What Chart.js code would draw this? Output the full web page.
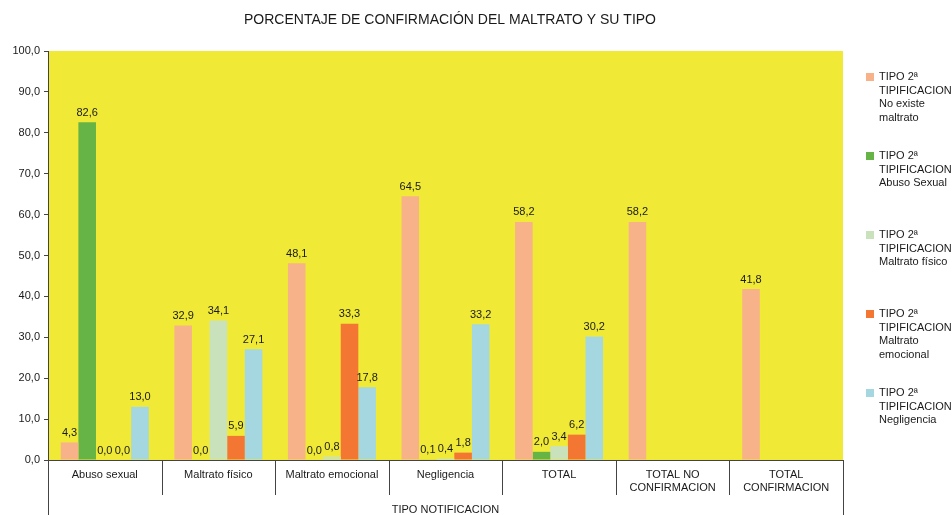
<!DOCTYPE html>
<html>
<head>
<meta charset="utf-8">
<script src="https://cdn.jsdelivr.net/npm/chart.js@4/dist/chart.umd.min.js"></script>
<style>
  body { margin: 0; background: #fff; }
  #wrap { position: relative; width: 952px; height: 515px; }
  #leyenda { position: absolute; left: 866px; top: 0; font: 11px "Liberation Sans", Arial, sans-serif; color: #1a1a1a; }
  .item { position: absolute; left: 0; width: 90px; line-height: 13.5px; padding-left: 13px; white-space: nowrap; }
  .item span.box { position: absolute; left: 0; top: 3px; width: 8px; height: 8px; }
</style>
</head>
<body>
<div id="wrap">
  <canvas id="grafica" width="952" height="515"></canvas>
  <div id="leyenda"></div>
</div>
<script>
const titulo = 'PORCENTAJE DE CONFIRMACIÓN DEL MALTRATO Y SU TIPO';
const tituloEje = 'TIPO NOTIFICACION';

const categorias = ['Abuso sexual', 'Maltrato físico', 'Maltrato emocional', 'Negligencia', 'TOTAL',
    ['TOTAL NO', 'CONFIRMACION'], ['TOTAL', 'CONFIRMACION']];

const noExisteMaltrato = [4.3, 32.9, 48.1, 64.5, 58.2, 58.2, 41.8];
const abusoSexual = [82.6, 0.0, 0.0, 0.1, 2.0, null, null];
const maltratoFisico = [0.0, 34.1, 0.8, 0.4, 3.4, null, null];
const maltratoEmocional = [0.0, 5.9, 33.3, 1.8, 6.2, null, null];
const negligencia = [13.0, 27.1, 17.8, 33.2, 30.2, null, null];

const ticksY = [0, 10, 20, 30, 40, 50, 60, 70, 80, 90, 100];

const fuente = '"Liberation Sans", Arial, sans-serif';
const colorTexto = '#1a1a1a';
const colorEje = '#444';

const formato = v => v.toFixed(1).replace('.', ',');

const series = [
    { label: ['TIPO 2ª', 'TIPIFICACION', 'No existe', 'maltrato'], data: noExisteMaltrato, backgroundColor: '#f8b28a' },
    { label: ['TIPO 2ª', 'TIPIFICACION', 'Abuso Sexual'], data: abusoSexual, backgroundColor: '#66b445' },
    { label: ['TIPO 2ª', 'TIPIFICACION', 'Maltrato físico'], data: maltratoFisico, backgroundColor: '#cae2bc' },
    { label: ['TIPO 2ª', 'TIPIFICACION', 'Maltrato', 'emocional'], data: maltratoEmocional, backgroundColor: '#f37633' },
    { label: ['TIPO 2ª', 'TIPIFICACION', 'Negligencia'], data: negligencia, backgroundColor: '#a5d7e1' }
];

// fondo amarillo del área de trazado
const fondoArea = {
    id: 'fondoArea',
    beforeDraw(chart) {
        const { ctx, chartArea: a } = chart;
        ctx.save();
        ctx.fillStyle = '#f0ea36';
        ctx.fillRect(a.left, a.top, a.right - a.left, a.bottom - a.top);
        ctx.restore();
    }
};

// valores encima de cada barra
const etiquetasValor = {
    id: 'etiquetasValor',
    afterDatasetsDraw(chart) {
        const ctx = chart.ctx;
        ctx.save();
        ctx.font = '11px ' + fuente;
        ctx.fillStyle = colorTexto;
        ctx.textAlign = 'center';
        ctx.textBaseline = 'bottom';
        chart.data.datasets.forEach((ds, i) => {
            chart.getDatasetMeta(i).data.forEach((bar, j) => {
                const v = ds.data[j];
                if (v === null) return;
                ctx.fillText(formato(v), bar.x, bar.y - 4);
            });
        });
        ctx.restore();
    }
};

// título y separadores de categorías del eje X
const decoracion = {
    id: 'decoracion',
    afterDraw(chart) {
        const { ctx, chartArea: a, scales: { x } } = chart;
        ctx.save();
        ctx.font = '14px ' + fuente;
        ctx.fillStyle = colorTexto;
        ctx.textAlign = 'center';
        ctx.textBaseline = 'middle';
        ctx.fillText(titulo, 450, 20);

        ctx.strokeStyle = colorEje;
        ctx.lineWidth = 1;
        const paso = (a.right - a.left) / categorias.length;
        for (let i = 0; i <= categorias.length; i++) {
            const px = Math.round(x.getPixelForValue(i) - paso / 2) + 0.5;
            const fin = (i === 0 || i === categorias.length) ? chart.height : a.bottom + 35;
            ctx.beginPath();
            ctx.moveTo(px, a.bottom);
            ctx.lineTo(px, fin);
            ctx.stroke();
        }
        ctx.restore();
    }
};

const config = {
    type: 'bar',
    data: { labels: categorias, datasets: series },
    options: {
        responsive: false,
        animation: false,
        layout: { padding: { top: 51, right: 109, left: 0, bottom: 0 } },
        datasets: { bar: { categoryPercentage: 0.775, barPercentage: 1 } },
        plugins: { legend: { display: false }, tooltip: { enabled: false } },
        scales: {
            x: {
                grid: { display: false, drawTicks: false },
                border: { display: true, color: colorEje },
                ticks: { color: colorTexto, font: { family: fuente, size: 11 }, padding: 8, maxRotation: 0, autoSkip: false },
                title: { display: true, text: tituloEje, color: colorTexto, font: { family: fuente, size: 11 }, padding: { top: 0, bottom: -2 } },
                afterFit: s => { s.height = 55; }
            },
            y: {
                min: 0,
                max: 100,
                afterBuildTicks: s => { s.ticks = ticksY.map(v => ({ value: v })); },
                grid: { drawOnChartArea: false, drawTicks: true, tickLength: 4, color: colorEje },
                border: { display: true, color: colorEje },
                ticks: { color: colorTexto, font: { family: fuente, size: 11 }, padding: 4, callback: v => formato(v) },
                afterFit: s => { s.width = 48; }
            }
        }
    },
    plugins: [fondoArea, etiquetasValor, decoracion]
};

new Chart(document.getElementById('grafica'), config);

// leyenda a la derecha
const leyenda = document.getElementById('leyenda');
series.forEach((s, i) => {
    const item = document.createElement('div');
    item.className = 'item';
    item.style.top = (70 + i * 79) + 'px';
    const box = document.createElement('span');
    box.className = 'box';
    box.style.background = s.backgroundColor;
    item.appendChild(box);
    s.label.forEach((linea, k) => {
        if (k > 0) item.appendChild(document.createElement('br'));
        item.appendChild(document.createTextNode(linea));
    });
    leyenda.appendChild(item);
});
</script>
</body>
</html>
